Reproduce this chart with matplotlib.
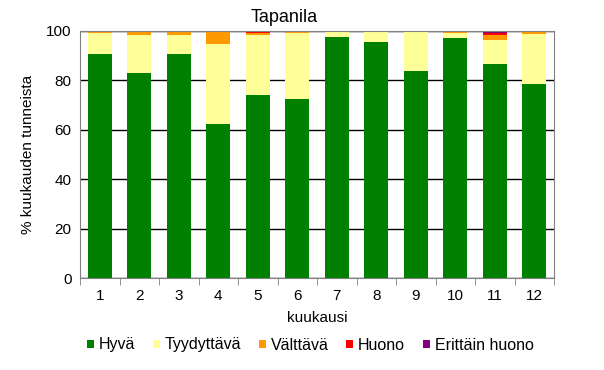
import numpy as np
import matplotlib
matplotlib.use('Agg')
from matplotlib import pyplot as plt
from matplotlib.patches import Patch

plt.rcParams['font.family'] = ['Liberation Sans', 'DejaVu Sans']

# kuukaudet ja luokkien osuudet (%)
months = ['1', '2', '3', '4', '5', '6', '7', '8', '9', '10', '11', '12']
hyva = [90.7, 83.0, 90.7, 62.3, 74.1, 72.5, 97.6, 95.5, 83.8, 97.2, 86.6, 78.5]
tyydyttava = [8.6, 15.4, 7.7, 32.4, 24.3, 26.8, 2.4, 4.1, 15.8, 2.0, 9.8, 20.3]
valttava = [0.4, 1.2, 1.6, 4.8, 0.7, 0.5, 0.0, 0.4, 0.0, 0.4, 2.0, 1.2]
huono = [0.2, 0.4, 0.0, 0.5, 0.6, 0.2, 0.0, 0.0, 0.4, 0.4, 0.6, 0.0]
erittain_huono = [0.1, 0.0, 0.0, 0.0, 0.3, 0.0, 0.0, 0.0, 0.0, 0.0, 1.0, 0.0]

names = ['Hyvä', 'Tyydyttävä', 'Välttävä', 'Huono', 'Erittäin huono']
colors = ['#008000', '#FFFF99', '#FF9900', '#FF0000', '#800080']
series = [hyva, tyydyttava, valttava, huono, erittain_huono]

fig = plt.figure(figsize=(6.04, 3.70), dpi=100)
ax = fig.add_axes([80 / 604, 1 - 278 / 370, 474 / 604, 247 / 370])

x = np.arange(len(months))
bottom = np.zeros(len(months))
for vals, c in zip(series, colors):
    ax.bar(x, vals, bottom=bottom, width=0.6, color=c, zorder=3)
    bottom += np.array(vals)

ax.set_xlim(-0.5, len(months) - 0.5)
ax.set_ylim(0, 100)
ax.set_yticks([0, 20, 40, 60, 80, 100])
ax.yaxis.grid(True, color='black', linewidth=1, zorder=0)
ax.set_xticks(x)
ax.set_xticklabels(months, fontsize=11)
ax.set_xticks(np.arange(len(months) + 1) - 0.5, minor=True)
ax.tick_params(axis='x', which='major', length=0, pad=8)
ax.tick_params(axis='x', which='minor', length=5, color='#808080')
ax.tick_params(axis='y', length=0, labelsize=11, pad=6)
for s in ax.spines.values():
    s.set_color('#808080')
    s.set_zorder(4)

ax.set_xlabel('kuukausi', fontsize=11, labelpad=6)
ax.set_ylabel('% kuukauden tunneista', fontsize=11, labelpad=8)
fig.text(284 / 604, 1 - 17 / 370, 'Tapanila', fontsize=13, ha='center', va='center')

handles = [Patch(facecolor=c, edgecolor='none') for c in colors]
fig.legend(handles, names, loc='center', bbox_to_anchor=(310 / 604, 1 - 345 / 370), ncol=5,
           frameon=False, fontsize=11.5, handlelength=0.45, handleheight=0.45,
           handletextpad=0.3, columnspacing=1.1)

plt.savefig('out.png', dpi=100)
